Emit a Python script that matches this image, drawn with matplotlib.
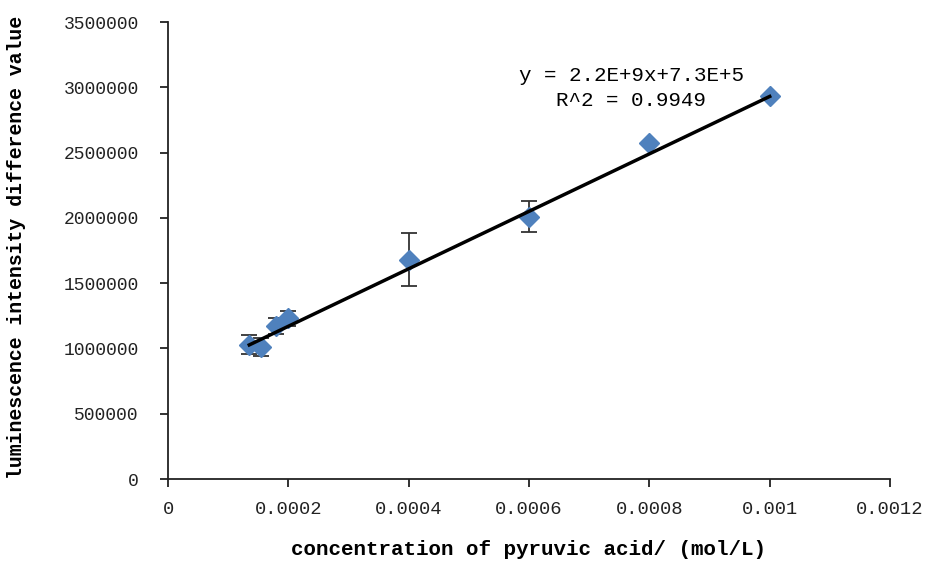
import matplotlib
matplotlib.use("Agg")
import matplotlib.pyplot as plt
import numpy as np

# Data
conc = [0.000135, 0.000155, 0.00018, 0.0002, 0.0004, 0.0006, 0.0008, 0.001]
lum = [1030000, 1010000, 1170000, 1230000, 1680000, 2010000, 2570000, 2930000]
err = [70000, 70000, 60000, 60000, 205000, 120000, 0, 0]
slope = 2.2e9
intercept = 7.3e5
eq_text = "y = 2.2E+9x+7.3E+5"
r2_text = "R^2 = 0.9949"
x_ticks = [0, 0.0002, 0.0004, 0.0006, 0.0008, 0.001, 0.0012]
x_tick_labels = ["0", "0.0002", "0.0004", "0.0006", "0.0008", "0.001", "0.0012"]
y_ticks = [0, 500000, 1000000, 1500000, 2000000, 2500000, 3000000, 3500000]
y_tick_labels = [str(v) for v in y_ticks]
xlabel = "concentration of pyruvic acid/ (mol/L)"
ylabel = "luminescence intensity difference value"

mono = "Liberation Mono"

fig = plt.figure(figsize=(9.31, 5.73), dpi=100)
ax = fig.add_axes([0.1805, 0.164, 0.956 - 0.1805, 0.9616 - 0.164])

# error bars
ax.errorbar(conc, lum, yerr=err, fmt="none", ecolor="#333333", elinewidth=1.3,
            capsize=6, capthick=1.3, zorder=2)
# markers
ax.plot(conc, lum, linestyle="none", marker="D", markersize=10.5,
        color="#4F81BD", markeredgecolor="#4F81BD", zorder=3)
# trend line
xl = np.array([conc[0], conc[-1]])
ax.plot(xl, slope * xl + intercept, color="black", linewidth=2.5, zorder=4)

ax.set_xlim(0, 0.0012)
ax.set_ylim(0, 3500000)
ax.set_xticks(x_ticks)
ax.set_xticklabels(x_tick_labels, fontfamily=mono, fontsize=13.5, color="#222222")
ax.set_yticks(y_ticks)
ax.set_yticklabels(y_tick_labels, fontfamily=mono, fontsize=13, color="#222222")

for s in ["top", "right"]:
    ax.spines[s].set_visible(False)
for s in ["left", "bottom"]:
    ax.spines[s].set_color("#222222")
    ax.spines[s].set_linewidth(1.3)
ax.tick_params(axis="both", direction="out", length=6, width=1.3, color="#222222")
ax.tick_params(axis="x", pad=10)
ax.tick_params(axis="y", pad=15)

ax.set_xlabel(xlabel, fontfamily=mono, fontsize=15, fontweight="bold")
ax.set_ylabel(ylabel, fontfamily=mono, fontsize=14.3, fontweight="bold")
ax.xaxis.set_label_coords(0.499, -0.154)
ax.yaxis.set_label_coords(-0.21, 0.507)
ax.xaxis.label.set_va("center")
ax.yaxis.label.set_va("center")

ax.text(0.00077, 3090000, eq_text, fontfamily=mono, fontsize=15, ha="center", va="center")
ax.text(0.00077, 2900000, r2_text, fontfamily=mono, fontsize=15, ha="center", va="center")

fig.savefig("out.png", dpi=100)
